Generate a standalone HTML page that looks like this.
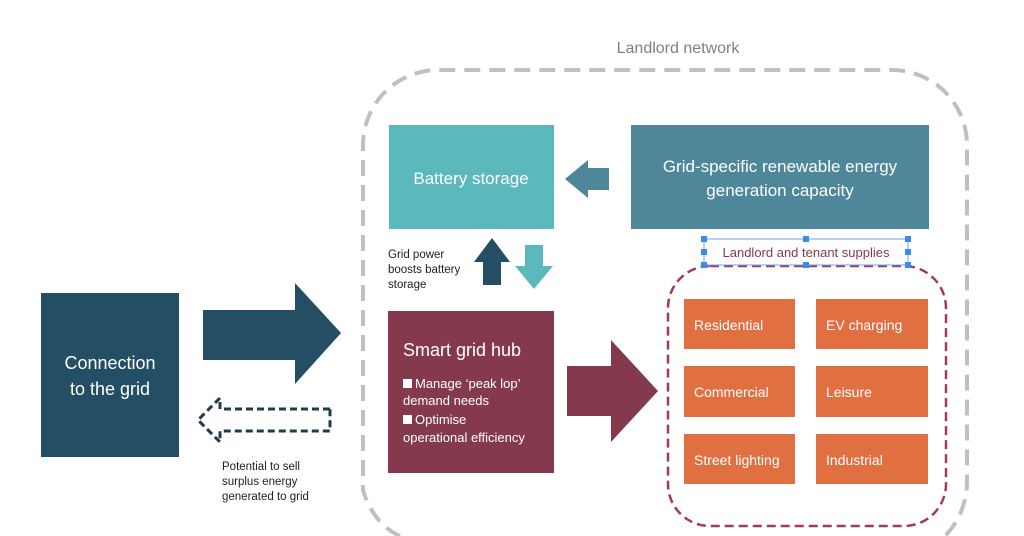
<!DOCTYPE html>
<html><head><meta charset="utf-8"><style>
html,body{margin:0;padding:0;background:#fff;width:1024px;height:536px;overflow:hidden;}
svg{display:block;font-family:"Liberation Sans",sans-serif;}
</style></head><body>
<svg width="1024" height="536" viewBox="0 0 1024 536" xmlns="http://www.w3.org/2000/svg">
<rect x="0" y="0" width="1024" height="536" fill="#fff"/>
<text x="678" y="53" font-size="16" fill="#808080" text-anchor="middle">Landlord network</text>
<path d="M400,536 A60,75 0 0 1 363,490 L363,145 A75,75 0 0 1 438,70 L892,70 A75,75 0 0 1 967,145 L967,480 A70,75 0 0 1 945,536" fill="none" stroke="#c0c0c0" stroke-width="4" stroke-dasharray="16,9"/>
<rect x="41" y="293" width="138" height="164" fill="#234e63"/>
<text x="110" y="369" font-size="18" fill="#fff" text-anchor="middle">Connection</text>
<text x="110" y="395" font-size="18" fill="#fff" text-anchor="middle">to the grid</text>
<polygon points="203,310 295,310 295,283 341,333 295,384 295,360 203,360" fill="#234e63"/>
<polygon points="330,409 220,409 220,398 198,420 220,442 220,431 330,431" fill="none" stroke="#1e3d48" stroke-width="3" stroke-dasharray="7,4"/>
<text font-size="11.5" fill="#222"><tspan x="222" y="470">Potential to sell</tspan><tspan x="222" y="485">surplus energy</tspan><tspan x="222" y="500">generated to grid</tspan></text>
<rect x="389" y="125" width="165" height="104" fill="#5bb9bc"/>
<text x="471" y="184" font-size="17" fill="#fff" text-anchor="middle">Battery storage</text>
<rect x="631" y="125" width="298" height="104" fill="#4e8799"/>
<text x="780" y="172" font-size="17" fill="#fff" text-anchor="middle">Grid-specific renewable energy</text>
<text x="780" y="196" font-size="17" fill="#fff" text-anchor="middle">generation capacity</text>
<polygon points="609,168 588,168 588,160 565,179 588,198 588,190 609,190" fill="#4e8799"/>
<polygon points="483,285 501,285 501,262 510,262 492,238 474,262 483,262" fill="#234e63"/>
<polygon points="525,245 543,245 543,266 553,266 534,289 515,266 525,266" fill="#5bb9bc"/>
<text font-size="11.5" fill="#222"><tspan x="388" y="258">Grid power</tspan><tspan x="388" y="273">boosts battery</tspan><tspan x="388" y="288">storage</tspan></text>
<rect x="388" y="311" width="166" height="162" fill="#843a4c"/>
<text x="403" y="356" font-size="18" fill="#fff">Smart grid hub</text>
<rect x="403" y="379" width="9" height="9" fill="#fff"/>
<text font-size="13" fill="#fff"><tspan x="415" y="388">Manage ‘peak lop’</tspan><tspan x="403" y="405">demand needs</tspan><tspan x="415" y="424">Optimise</tspan><tspan x="403" y="442">operational efficiency</tspan></text>
<rect x="403" y="415" width="9" height="9" fill="#fff"/>
<polygon points="567,366 611,366 611,340 658,391 611,442 611,416 567,416" fill="#843a4c"/>
<rect x="668" y="266" width="278" height="260" rx="42" fill="none" stroke="#a23a5f" stroke-width="2.5" stroke-dasharray="9,5"/>
<rect x="704" y="239" width="204" height="26" fill="#fff" stroke="#6aa6f0" stroke-width="1"/>
<g fill="#3b8cf0"><rect x="701" y="236" width="6" height="6"/><rect x="803" y="236" width="6" height="6"/><rect x="905" y="236" width="6" height="6"/><rect x="701" y="262" width="6" height="6"/><rect x="803" y="262" width="6" height="6"/><rect x="905" y="262" width="6" height="6"/><rect x="701" y="249" width="6" height="6"/><rect x="905" y="249" width="6" height="6"/></g>
<text x="806" y="257" font-size="13" fill="#843a4c" text-anchor="middle">Landlord and tenant supplies</text>
<g fill="#e06f42">
<rect x="684" y="299" width="111" height="50"/><rect x="816" y="299" width="112" height="50"/>
<rect x="684" y="366" width="111" height="51"/><rect x="816" y="366" width="112" height="51"/>
<rect x="684" y="434" width="111" height="50"/><rect x="816" y="434" width="112" height="50"/>
</g>
<g font-size="14" fill="#fff">
<text x="694" y="330">Residential</text><text x="826" y="330">EV charging</text>
<text x="694" y="397">Commercial</text><text x="826" y="397">Leisure</text>
<text x="694" y="465">Street lighting</text><text x="826" y="465">Industrial</text>
</g>
</svg>
</body></html>
